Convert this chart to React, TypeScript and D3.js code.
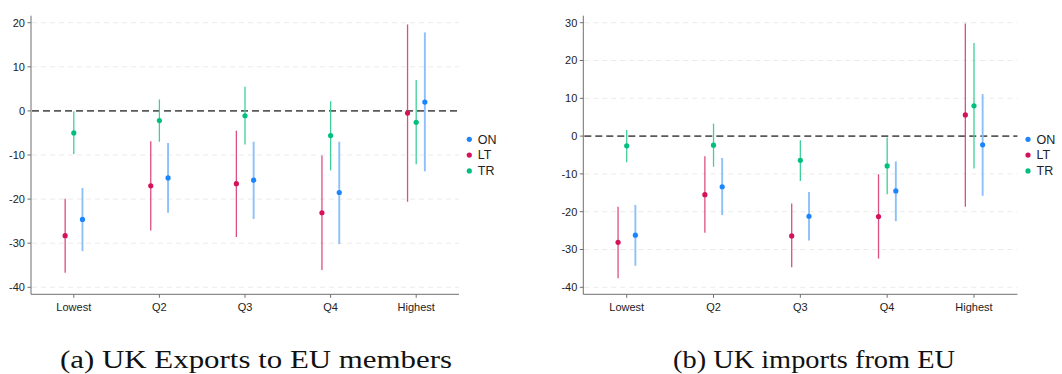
import React, { useEffect } from "react";
import * as d3 from "d3";

const categories = ["Lowest", "Q2", "Q3", "Q4", "Highest"];
const seriesNames = ["ON", "LT", "TR"];
const seriesOrder = ["LT", "TR", "ON"];

// Panel (a) UK Exports to EU members
const exON_est = [-24.6, -15.2, -15.7, -18.5, 2.0];
const exON_lo = [-31.8, -23.1, -24.5, -30.2, -13.7];
const exON_hi = [-17.5, -7.3, -7.0, -7.0, 17.8];
const exLT_est = [-28.3, -17.0, -16.5, -23.1, -0.5];
const exLT_lo = [-36.7, -27.1, -28.6, -36.1, -20.6];
const exLT_hi = [-19.9, -6.9, -4.5, -10.1, 19.6];
const exTR_est = [-5.0, -2.2, -1.1, -5.6, -2.6];
const exTR_lo = [-9.75, -7.0, -7.6, -13.5, -12.1];
const exTR_hi = [-0.1, 2.6, 5.5, 2.2, 7.0];
const exTicks = [20, 10, 0, -10, -20, -30, -40];

// Panel (b) UK imports from EU
const imON_est = [-26.2, -13.4, -21.2, -14.5, -2.3];
const imON_lo = [-34.3, -20.9, -27.6, -22.5, -15.8];
const imON_hi = [-18.2, -5.8, -14.8, -6.7, 11.1];
const imLT_est = [-28.1, -15.5, -26.4, -21.3, 5.6];
const imLT_lo = [-37.6, -25.6, -34.7, -32.4, -18.7];
const imLT_hi = [-18.7, -5.3, -17.8, -10.1, 29.8];
const imTR_est = [-2.56, -2.4, -6.4, -7.9, 8.0];
const imTR_lo = [-6.9, -8.1, -11.9, -15.4, -8.6];
const imTR_hi = [1.6, 3.3, -1.1, -0.4, 24.6];
const imTicks = [30, 20, 10, 0, -10, -20, -30, -40];

const captions = ["(a) UK Exports to EU members", "(b) UK imports from EU"];

const dotColor: Record<string, string> = { ON: "#1a85ff", LT: "#d41159", TR: "#00bf7f" };
const lineColor: Record<string, string> = { ON: "#8cc0fb", LT: "#dc4f82", TR: "#3fcf98" };
const lineWidth: Record<string, number> = { ON: 1.9, LT: 1.3, TR: 1.3 };

type Series = { est: number[]; lo: number[]; hi: number[] };

const exportsData: Record<string, Series> = {
  ON: { est: exON_est, lo: exON_lo, hi: exON_hi },
  LT: { est: exLT_est, lo: exLT_lo, hi: exLT_hi },
  TR: { est: exTR_est, lo: exTR_lo, hi: exTR_hi },
};
const importsData: Record<string, Series> = {
  ON: { est: imON_est, lo: imON_lo, hi: imON_hi },
  LT: { est: imLT_est, lo: imLT_lo, hi: imLT_hi },
  TR: { est: imTR_est, lo: imTR_lo, hi: imTR_hi },
};

const FONT = "'Liberation Sans', Arial, Helvetica, sans-serif";
const SERIF = "'Liberation Serif', 'Times New Roman', serif";

function Panel(props: {
  x0: number;
  x1: number;
  domain: [number, number];
  ticks: number[];
  data: Record<string, Series>;
  legendX: number;
}) {
  const { x0, x1, domain, ticks, data, legendX } = props;
  const top = 15.7;
  const bottom = 294.3;
  const y = d3.scaleLinear().domain(domain).range([287.3, 22.7]);
  const xb = d3.scaleBand().domain(categories).range([x0, x1]).padding(0);
  const cx = (c: string) => (xb(c) as number) + xb.bandwidth() / 2;
  const off = d3.scalePoint().domain(seriesOrder).range([-8.65, 8.65]);
  const axisColor = "#6e6e6e";

  return (
    <g>
      {ticks.map((t) =>
        t === 0 ? null : (
          <line
            key={"g" + t}
            x1={x0 + 1}
            x2={x1}
            y1={y(t)}
            y2={y(t)}
            stroke="#ebebeb"
            strokeWidth={1}
            strokeDasharray="5,4"
          />
        )
      )}
      <line
        x1={x0 + 1}
        x2={x1}
        y1={y(0)}
        y2={y(0)}
        stroke="#5a5a5a"
        strokeWidth={1.6}
        strokeDasharray="7,4"
      />
      <line x1={x0} x2={x0} y1={top} y2={bottom} stroke={axisColor} strokeWidth={1} />
      <line x1={x0} x2={x1} y1={bottom} y2={bottom} stroke={axisColor} strokeWidth={1} />
      {ticks.map((t) => (
        <g key={"t" + t}>
          <line x1={x0 - 3.5} x2={x0} y1={y(t)} y2={y(t)} stroke={axisColor} strokeWidth={1} />
          <text
            x={x0 - 6}
            y={y(t)}
            dy="0.35em"
            textAnchor="end"
            style={{ fontFamily: FONT }}
            fontSize={11}
            fill="#222"
          >
            {t}
          </text>
        </g>
      ))}
      {categories.map((c) => (
        <g key={"c" + c}>
          <line x1={cx(c)} x2={cx(c)} y1={bottom} y2={bottom + 3.5} stroke={axisColor} strokeWidth={1} />
          <text x={cx(c)} y={311} textAnchor="middle" style={{ fontFamily: FONT }} fontSize={11} fill="#222">
            {c}
          </text>
        </g>
      ))}
      {seriesOrder.map((s) =>
        categories.map((c, i) => (
          <line
            key={"ci" + s + c}
            x1={cx(c) + (off(s) as number)}
            x2={cx(c) + (off(s) as number)}
            y1={y(data[s].lo[i])}
            y2={y(data[s].hi[i])}
            stroke={lineColor[s]}
            strokeWidth={lineWidth[s]}
          />
        ))
      )}
      {seriesOrder.map((s) =>
        categories.map((c, i) => (
          <circle
            key={"pt" + s + c}
            cx={cx(c) + (off(s) as number)}
            cy={y(data[s].est[i])}
            r={2.6}
            fill={dotColor[s]}
          />
        ))
      )}
      {seriesNames.map((s, i) => (
        <g key={"lg" + s}>
          <circle cx={legendX} cy={139.3 + i * 15.8} r={2.6} fill={dotColor[s]} />
          <text
            x={legendX + 8.5}
            y={139.3 + i * 15.8}
            dy="0.35em"
            style={{ fontFamily: FONT }}
            fontSize={12.5}
            fill="#222"
          >
            {s}
          </text>
        </g>
      ))}
    </g>
  );
}

export default function App() {
  useEffect(() => {
    document.body.style.margin = "0";
  }, []);
  return (
    <div style={{ position: "absolute", left: 0, top: 0 }}>
      <svg width={1062} height={374} style={{ display: "block", background: "#fff" }}>
        <rect width={1062} height={374} fill="#fff" />
        <Panel x0={31} x1={459} domain={[-40, 20]} ticks={exTicks} data={exportsData} legendX={469.3} />
        <Panel x0={583.3} x1={1017.4} domain={[-40, 30]} ticks={imTicks} data={importsData} legendX={1028} />
        <text
          x={60}
          y={368}
          style={{ fontFamily: SERIF }}
          fontSize={25}
          textLength={392}
          lengthAdjust="spacingAndGlyphs"
          fill="#111"
        >
          {captions[0]}
        </text>
        <text
          x={673}
          y={368}
          style={{ fontFamily: SERIF }}
          fontSize={25}
          textLength={282}
          lengthAdjust="spacingAndGlyphs"
          fill="#111"
        >
          {captions[1]}
        </text>
      </svg>
    </div>
  );
}
